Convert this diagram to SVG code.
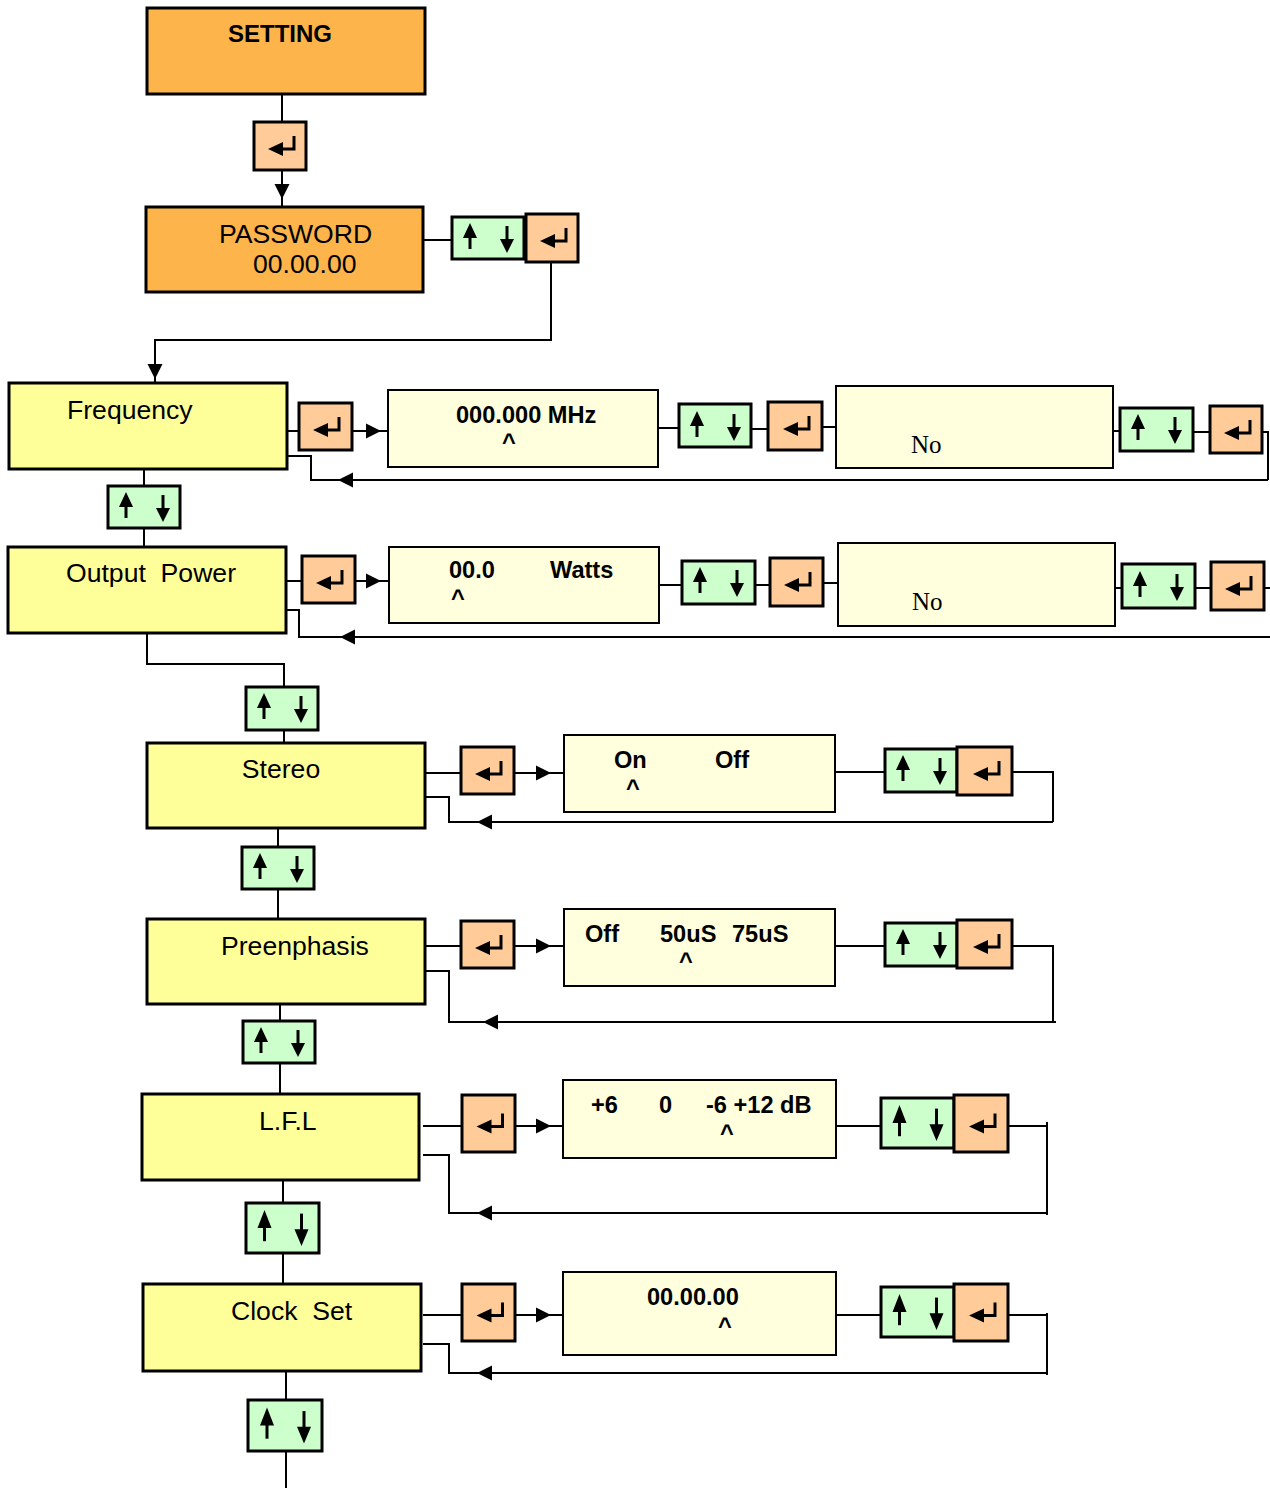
<svg xmlns="http://www.w3.org/2000/svg" xmlns:xlink="http://www.w3.org/1999/xlink" width="1270" height="1488" viewBox="0 0 1270 1488">
<style>
.top{fill:#FDB44B;stroke:#000;stroke-width:3}
.menu{fill:#FFFF99;stroke:#000;stroke-width:3}
.val{fill:#FFFFDD;stroke:#000;stroke-width:2}
.ent{fill:#FFCC99;stroke:#000;stroke-width:3}
.ud{fill:#CCFFCC;stroke:#000;stroke-width:3}
.ln{fill:none;stroke:#000;stroke-width:2}
.lbl{font-family:"Liberation Sans",Arial,sans-serif;font-size:26.6px;fill:#000}
.b{font-family:"Liberation Sans",Arial,sans-serif;font-size:23.6px;font-weight:bold;fill:#000}
.no{font-family:"Liberation Serif","Times New Roman",serif;font-size:25px;fill:#000}
</style>
<defs>
<marker id="ah" markerUnits="userSpaceOnUse" markerWidth="16" markerHeight="16" viewBox="0 0 16 16" refX="15" refY="8" orient="auto"><path d="M0,0.5 L15,8 L0,15.5 Z" fill="#000"/></marker>
<g id="enter"><path d="M-12,3 L3,-4 L3,10 Z" fill="#000"/><path d="M2,3 H14 V-10" fill="none" stroke="#000" stroke-width="3"/></g>
<g id="updown"><path d="M-18,-15 L-25,0 L-11,0 Z" fill="#000"/><path d="M-18,-2 V11" stroke="#000" stroke-width="3"/><path d="M19,-12 V2" stroke="#000" stroke-width="3"/><path d="M12,1 L26,1 L19,15 Z" fill="#000"/></g>
</defs>

<g id="connectors">
<path class="ln" d="M282,94 V127"/>
<path class="ln" d="M282,165 V199" marker-end="url(#ah)"/>
<path class="ln" d="M282,198 V207"/>
<path class="ln" d="M423,240 H452"/>
<path class="ln" d="M551,262 V340 H155 V379" marker-end="url(#ah)"/>
<path class="ln" d="M155,378 V383"/>
<!-- Frequency row -->
<path class="ln" d="M287,431 H299"/>
<path class="ln" d="M352,431 H381" marker-end="url(#ah)"/>
<path class="ln" d="M380,431 H388"/>
<path class="ln" d="M658,428 H679"/>
<path class="ln" d="M751,429 H768"/>
<path class="ln" d="M822,427 H836"/>
<path class="ln" d="M1113,431 H1120"/>
<path class="ln" d="M1193,432 H1210"/>
<path class="ln" d="M1262,432 H1268 V480"/>
<path class="ln" d="M1268,480 H338" marker-end="url(#ah)"/>
<path class="ln" d="M339,480 H311 V456 H287"/>
<path class="ln" d="M144,469 V487"/>
<path class="ln" d="M144,528 V547"/>
<!-- Output power row -->
<path class="ln" d="M286,581 H302"/>
<path class="ln" d="M355,581 H381" marker-end="url(#ah)"/>
<path class="ln" d="M380,581 H389"/>
<path class="ln" d="M659,585 H682"/>
<path class="ln" d="M755,585 H770"/>
<path class="ln" d="M823,583 H838"/>
<path class="ln" d="M1115,588 H1122"/>
<path class="ln" d="M1195,588 H1211"/>
<path class="ln" d="M1264,588 H1270"/>
<path class="ln" d="M1270,637 H340" marker-end="url(#ah)"/>
<path class="ln" d="M341,637 H299 V610 H286"/>
<path class="ln" d="M147,633 V664 H284 V687"/>
<path class="ln" d="M284,730 V743"/>
<!-- Stereo row -->
<path class="ln" d="M425,773 H461"/>
<path class="ln" d="M514,773 H551" marker-end="url(#ah)"/>
<path class="ln" d="M550,773 H564"/>
<path class="ln" d="M835,772 H885"/>
<path class="ln" d="M1012,772 H1053 V822"/>
<path class="ln" d="M1053,822 H477" marker-end="url(#ah)"/>
<path class="ln" d="M478,822 H449 V797 H425"/>
<path class="ln" d="M278,828 V847"/>
<path class="ln" d="M278,889 V919"/>
<!-- Preenphasis row -->
<path class="ln" d="M425,946 H461"/>
<path class="ln" d="M514,946 H551" marker-end="url(#ah)"/>
<path class="ln" d="M550,946 H564"/>
<path class="ln" d="M835,946 H885"/>
<path class="ln" d="M1012,946 H1053 V1022"/>
<path class="ln" d="M1056,1022 H483" marker-end="url(#ah)"/>
<path class="ln" d="M484,1022 H449 V971 H425"/>
<path class="ln" d="M280,1004 V1021"/>
<path class="ln" d="M280,1063 V1094"/>
<!-- LFL row -->
<path class="ln" d="M423,1126 H462"/>
<path class="ln" d="M515,1126 H551" marker-end="url(#ah)"/>
<path class="ln" d="M550,1126 H564"/>
<path class="ln" d="M836,1126 H881"/>
<path class="ln" d="M1008,1126 H1047"/>
<path class="ln" d="M1047,1122 V1215"/>
<path class="ln" d="M1047,1213 H477" marker-end="url(#ah)"/>
<path class="ln" d="M478,1213 H449 V1155 H423"/>
<path class="ln" d="M283,1180 V1203"/>
<path class="ln" d="M283,1253 V1284"/>
<!-- Clock row -->
<path class="ln" d="M423,1315 H462"/>
<path class="ln" d="M515,1315 H551" marker-end="url(#ah)"/>
<path class="ln" d="M550,1315 H564"/>
<path class="ln" d="M836,1315 H881"/>
<path class="ln" d="M1008,1315 H1047"/>
<path class="ln" d="M1047,1313 V1375"/>
<path class="ln" d="M1047,1373 H477" marker-end="url(#ah)"/>
<path class="ln" d="M478,1373 H449 V1344 H423"/>
<path class="ln" d="M286,1371 V1400"/>
<path class="ln" d="M286,1451 V1488"/>
</g>

<g id="setting"><rect class="top" x="147" y="8" width="278" height="86"/><text class="lbl" x="228" y="42" style="font-size:24px;font-weight:bold">SETTING</text></g>
<g id="key-enter-top"><rect class="ent" x="254" y="122" width="52" height="48"/><use href="#enter" transform="translate(280,146)"/></g>
<g id="password"><rect class="top" x="146" y="207" width="277" height="85"/><text class="lbl" x="219" y="243">PASSWORD</text><text class="lbl" x="253" y="273">00.00.00</text></g>
<g id="key-ud-pwd"><rect class="ud" x="452" y="217" width="72" height="42"/><use href="#updown" transform="translate(488,238)"/></g>
<g id="key-enter-pwd"><rect class="ent" x="526" y="214" width="52" height="48"/><use href="#enter" transform="translate(552,238)"/></g>

<g id="frequency"><rect class="menu" x="9" y="383" width="278" height="86"/><text class="lbl" x="67" y="419">Frequency</text></g>
<g id="key-enter-f1"><rect class="ent" x="299" y="403" width="53" height="47"/><use href="#enter" transform="translate(325,427)"/></g>
<g id="freq-value"><rect class="val" x="388" y="390" width="270" height="77"/><text class="b" x="456" y="423">000.000 MHz</text><text class="b" x="509" y="450" text-anchor="middle">^</text></g>
<g id="key-ud-f1"><rect class="ud" x="679" y="404" width="72" height="43"/><use href="#updown" transform="translate(715,426)"/></g>
<g id="key-enter-f2"><rect class="ent" x="768" y="402" width="54" height="48"/><use href="#enter" transform="translate(795,426)"/></g>
<g id="freq-confirm"><rect class="val" x="836" y="386" width="277" height="82"/><text class="no" x="911" y="453">No</text></g>
<g id="key-ud-f2"><rect class="ud" x="1120" y="408" width="73" height="43"/><use href="#updown" transform="translate(1156,429)"/></g>
<g id="key-enter-f3"><rect class="ent" x="1210" y="406" width="52" height="47"/><use href="#enter" transform="translate(1236,430)"/></g>

<g id="key-ud-fo"><rect class="ud" x="108" y="486" width="72" height="42"/><use href="#updown" transform="translate(144,507)"/></g>

<g id="output-power"><rect class="menu" x="8" y="547" width="278" height="86"/><text class="lbl" x="66" y="582" xml:space="preserve">Output  Power</text></g>
<g id="key-enter-o1"><rect class="ent" x="302" y="556" width="53" height="47"/><use href="#enter" transform="translate(328,580)"/></g>
<g id="power-value"><rect class="val" x="389" y="547" width="270" height="76"/><text class="b" y="578"><tspan x="449">00.0</tspan><tspan x="550">Watts</tspan></text><text class="b" x="458" y="606" text-anchor="middle">^</text></g>
<g id="key-ud-o1"><rect class="ud" x="682" y="561" width="73" height="43"/><use href="#updown" transform="translate(718,582)"/></g>
<g id="key-enter-o2"><rect class="ent" x="770" y="558" width="53" height="48"/><use href="#enter" transform="translate(796,582)"/></g>
<g id="power-confirm"><rect class="val" x="838" y="543" width="277" height="83"/><text class="no" x="912" y="610">No</text></g>
<g id="key-ud-o2"><rect class="ud" x="1122" y="564" width="73" height="44"/><use href="#updown" transform="translate(1158,586)"/></g>
<g id="key-enter-o3"><rect class="ent" x="1211" y="562" width="53" height="48"/><use href="#enter" transform="translate(1237,586)"/></g>

<g id="key-ud-os"><rect class="ud" x="246" y="687" width="72" height="43"/><use href="#updown" transform="translate(282,708)"/></g>

<g id="stereo"><rect class="menu" x="147" y="743" width="278" height="85"/><text class="lbl" x="281" y="778" text-anchor="middle">Stereo</text></g>
<g id="key-enter-s1"><rect class="ent" x="461" y="747" width="53" height="47"/><use href="#enter" transform="translate(487,771)"/></g>
<g id="stereo-value"><rect class="val" x="564" y="735" width="271" height="77"/><text class="b" y="768"><tspan x="614">On</tspan><tspan x="715">Off</tspan></text><text class="b" x="633" y="796" text-anchor="middle">^</text></g>
<g id="key-ud-s"><rect class="ud" x="885" y="749" width="72" height="43"/><use href="#updown" transform="translate(921,770)"/></g>
<g id="key-enter-s2"><rect class="ent" x="957" y="747" width="55" height="48"/><use href="#enter" transform="translate(985,771)"/></g>

<g id="key-ud-sp"><rect class="ud" x="242" y="847" width="72" height="42"/><use href="#updown" transform="translate(278,868)"/></g>

<g id="preenphasis"><rect class="menu" x="147" y="919" width="278" height="85"/><text class="lbl" x="221" y="955">Preenphasis</text></g>
<g id="key-enter-p1"><rect class="ent" x="461" y="921" width="53" height="47"/><use href="#enter" transform="translate(487,945)"/></g>
<g id="preen-value"><rect class="val" x="564" y="909" width="271" height="77"/><text class="b" y="942"><tspan x="585">Off</tspan><tspan x="660">50uS</tspan><tspan x="732">75uS</tspan></text><text class="b" x="686" y="969" text-anchor="middle">^</text></g>
<g id="key-ud-p"><rect class="ud" x="885" y="923" width="72" height="43"/><use href="#updown" transform="translate(921,944)"/></g>
<g id="key-enter-p2"><rect class="ent" x="957" y="920" width="55" height="48"/><use href="#enter" transform="translate(985,944)"/></g>

<g id="key-ud-pl"><rect class="ud" x="243" y="1021" width="72" height="42"/><use href="#updown" transform="translate(279,1042)"/></g>

<g id="lfl"><rect class="menu" x="142" y="1094" width="277" height="86"/><text class="lbl" x="259" y="1130">L.F.L</text></g>
<g id="key-enter-l1"><rect class="ent" x="462" y="1095" width="53" height="57"/><use href="#enter" transform="translate(488.5,1123.5)"/></g>
<g id="lfl-value"><rect class="val" x="563" y="1080" width="273" height="78"/><text class="b" y="1113"><tspan x="591">+6</tspan><tspan x="659">0</tspan><tspan x="706">-6 +12 dB</tspan></text><text class="b" x="727" y="1141" text-anchor="middle">^</text></g>
<g id="key-ud-l"><rect class="ud" x="881" y="1098" width="73" height="50"/><use href="#updown" transform="translate(917.5,1123) scale(1,1.2)"/></g>
<g id="key-enter-l2"><rect class="ent" x="954" y="1095" width="54" height="57"/><use href="#enter" transform="translate(981,1123.5)"/></g>

<g id="key-ud-lc"><rect class="ud" x="246" y="1203" width="73" height="50"/><use href="#updown" transform="translate(282.5,1228) scale(1,1.2)"/></g>

<g id="clock-set"><rect class="menu" x="143" y="1284" width="278" height="87"/><text class="lbl" x="231" y="1320" xml:space="preserve">Clock  Set</text></g>
<g id="key-enter-c1"><rect class="ent" x="462" y="1284" width="53" height="57"/><use href="#enter" transform="translate(488.5,1312.5)"/></g>
<g id="clock-value"><rect class="val" x="563" y="1272" width="273" height="83"/><text class="b" x="647" y="1305">00.00.00</text><text class="b" x="725" y="1334" text-anchor="middle">^</text></g>
<g id="key-ud-c"><rect class="ud" x="881" y="1287" width="73" height="50"/><use href="#updown" transform="translate(917.5,1312) scale(1,1.2)"/></g>
<g id="key-enter-c2"><rect class="ent" x="954" y="1284" width="54" height="57"/><use href="#enter" transform="translate(981,1312.5)"/></g>

<g id="key-ud-bottom"><rect class="ud" x="248" y="1400" width="74" height="51"/><use href="#updown" transform="translate(285,1425.5) scale(1,1.2)"/></g>
</svg>
